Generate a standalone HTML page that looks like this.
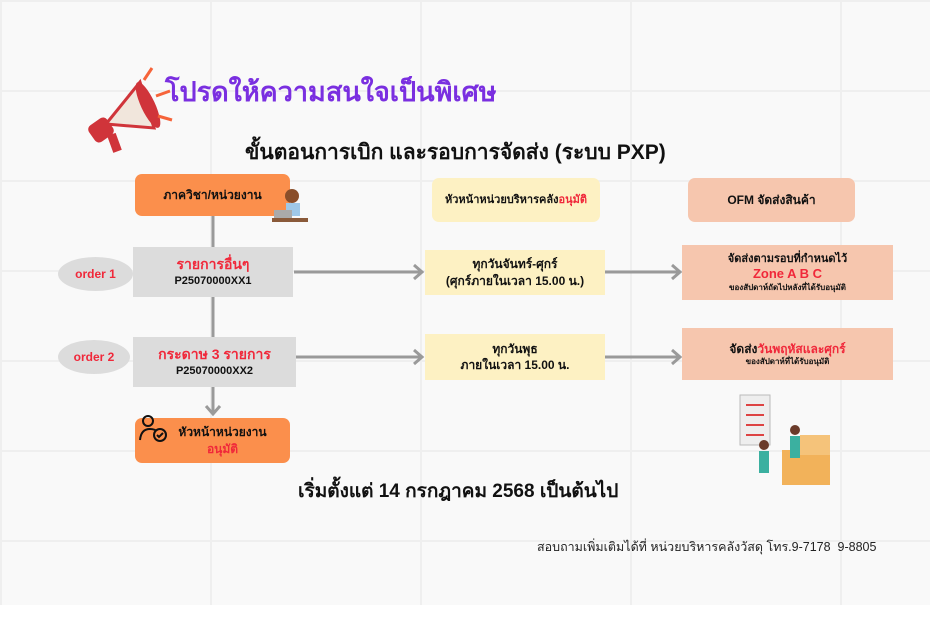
<!DOCTYPE html>
<html><head><meta charset="utf-8"><style>
*{margin:0;padding:0;box-sizing:border-box}
body{width:930px;height:620px;overflow:hidden;position:relative;background:#fff;font-family:"Liberation Sans","DejaVu Sans",sans-serif;color:#111}
.bg{position:absolute;left:0;top:0;width:930px;height:605px;background-color:#f9f9f9;
background-image:linear-gradient(#efefef 2px,transparent 2px),linear-gradient(90deg,#efefef 2px,transparent 2px);
background-size:210px 90px;}
.b{position:absolute;display:flex;flex-direction:column;align-items:center;justify-content:center;text-align:center;font-weight:bold;font-size:12px;line-height:1.35}
.or{background:#fb8f4c;border-radius:7px}
.gr{background:#dcdcdc}
.ye{background:#fdf1c3}
.sa{background:#f6c6ae}
.r{color:#f0283a}
.el{position:absolute;background:#dcdcdc;border-radius:50%;display:flex;align-items:center;justify-content:center;color:#f0283a;font-weight:bold;font-size:12px}
.t{position:absolute;white-space:nowrap;font-weight:bold}
svg{position:absolute;left:0;top:0}
</style></head><body>
<div class="bg"></div>
<svg width="930" height="620">
<g stroke="#9a9a9a" stroke-width="3" fill="none">
<line x1="213" y1="216" x2="213" y2="414"/>
<polyline points="206,406 213,414 220,406"/>
<line x1="294" y1="272" x2="422" y2="272"/><polyline points="414,265 422,272 414,279"/>
<line x1="296" y1="357" x2="422" y2="357"/><polyline points="414,350 422,357 414,364"/>
<line x1="605" y1="272" x2="680" y2="272"/><polyline points="672,265 680,272 672,279"/>
<line x1="605" y1="357" x2="680" y2="357"/><polyline points="672,350 680,357 672,364"/>
</g>
<!-- megaphone -->
<g transform="translate(88,72)">
<polygon points="18,52 52,10 66,56" fill="#f1e6dc" stroke="#d0343a" stroke-width="3"/>
<ellipse cx="60" cy="33" rx="7" ry="25" fill="#d0343a" transform="rotate(-25 60 33)"/>
<rect x="2" y="48" width="22" height="20" rx="5" fill="#d0343a" transform="rotate(-35 13 58)"/>
<rect x="22" y="62" width="9" height="18" fill="#d0343a" transform="rotate(-20 26 71)"/>
<path d="M56 8 l8 -12 M68 24 l14 -5 M70 44 l14 4" stroke="#f6643a" stroke-width="3" fill="none"/>
</g>
<!-- worker illustration -->
<g transform="translate(740,395)">
<rect x="0" y="0" width="30" height="50" fill="#eee" stroke="#bbb"/>
<path d="M6 10h18M6 20h18M6 30h18M6 40h18" stroke="#d44" stroke-width="2"/>
<rect x="42" y="55" width="48" height="35" fill="#f2b25a"/>
<rect x="60" y="40" width="30" height="20" fill="#f5c37a"/>
<circle cx="55" cy="35" r="5" fill="#6b3b2a"/><rect x="50" y="41" width="10" height="22" fill="#3bb0a0"/>
<circle cx="24" cy="50" r="5" fill="#6b3b2a"/><rect x="19" y="56" width="10" height="22" fill="#3bb0a0"/>
</g>
</svg>
<div class="t" style="left:165px;top:70px;font-size:27px;color:#7a2fe0">โปรดให้ความสนใจเป็นพิเศษ</div>
<div class="t" style="left:245px;top:136px;font-size:21px">ขั้นตอนการเบิก และรอบการจัดส่ง (ระบบ PXP)</div>

<div class="b or" style="left:135px;top:174px;width:155px;height:42px">ภาควิชา/หน่วยงาน</div>
<div class="b gr" style="left:133px;top:247px;width:160px;height:50px;font-size:11px"><span class="r" style="font-size:14px">รายการอื่นๆ</span>P25070000XX1</div>
<div class="b gr" style="left:133px;top:337px;width:163px;height:50px;font-size:11px"><span class="r" style="font-size:14px">กระดาษ 3 รายการ</span>P25070000XX2</div>
<div class="b or" style="left:135px;top:418px;width:155px;height:45px;padding-left:20px">หัวหน้าหน่วยงาน<span class="r">อนุมัติ</span></div>
<div class="el" style="left:58px;top:257px;width:75px;height:34px">order 1</div>
<div class="el" style="left:58px;top:340px;width:72px;height:34px">order 2</div>

<div class="b ye" style="left:432px;top:178px;width:168px;height:44px;border-radius:7px;font-size:11px"><div>หัวหน้าหน่วยบริหารคลัง<span class="r">อนุมัติ</span></div></div>
<div class="b ye" style="left:425px;top:250px;width:180px;height:45px">ทุกวันจันทร์-ศุกร์<br>(ศุกร์ภายในเวลา 15.00 น.)</div>
<div class="b ye" style="left:425px;top:334px;width:180px;height:46px">ทุกวันพุธ<br>ภายในเวลา 15.00 น.</div>

<div class="b sa" style="left:688px;top:178px;width:167px;height:44px;border-radius:7px">OFM จัดส่งสินค้า</div>
<div class="b sa" style="left:682px;top:245px;width:211px;height:55px;font-size:11px;line-height:1.3">จัดส่งตามรอบที่กำหนดไว้<span class="r" style="font-size:13px">Zone A B C</span><span style="font-size:8px">ของสัปดาห์ถัดไปหลังที่ได้รับอนุมัติ</span></div>
<div class="b sa" style="left:682px;top:328px;width:211px;height:52px;font-size:12px"><div>จัดส่ง<span class="r">วันพฤหัสและศุกร์</span></div><span style="font-size:8px">ของสัปดาห์ที่ได้รับอนุมัติ</span></div>

<svg width="930" height="620">
<!-- person icon -->
<g transform="translate(139,414)" fill="none" stroke="#111" stroke-width="2">
<circle cx="9" cy="7" r="5"/><path d="M1 26 q1 -11 10 -11 q5 0 8 3"/><circle cx="21" cy="21" r="6" fill="#fb8f4c"/><path d="M18 21 l2 2 4 -4"/>
</g>
<!-- woman -->
<g transform="translate(274,186)">
<circle cx="18" cy="10" r="7" fill="#8a4e2a"/><rect x="12" y="17" width="14" height="13" fill="#9fc8e8"/>
<rect x="0" y="24" width="18" height="10" fill="#aaa"/><rect x="-2" y="32" width="36" height="4" fill="#8a5a3a"/>
</g>
</svg>

<div class="t" style="left:298px;top:476px;font-size:19px">เริ่มตั้งแต่ 14 กรกฎาคม 2568 เป็นต้นไป</div>
<div class="t" style="left:537px;top:537px;font-size:12.5px;font-weight:normal;color:#222">สอบถามเพิ่มเติมได้ที่ หน่วยบริหารคลังวัสดุ โทร.9-7178&nbsp; 9-8805</div>
</body></html>
